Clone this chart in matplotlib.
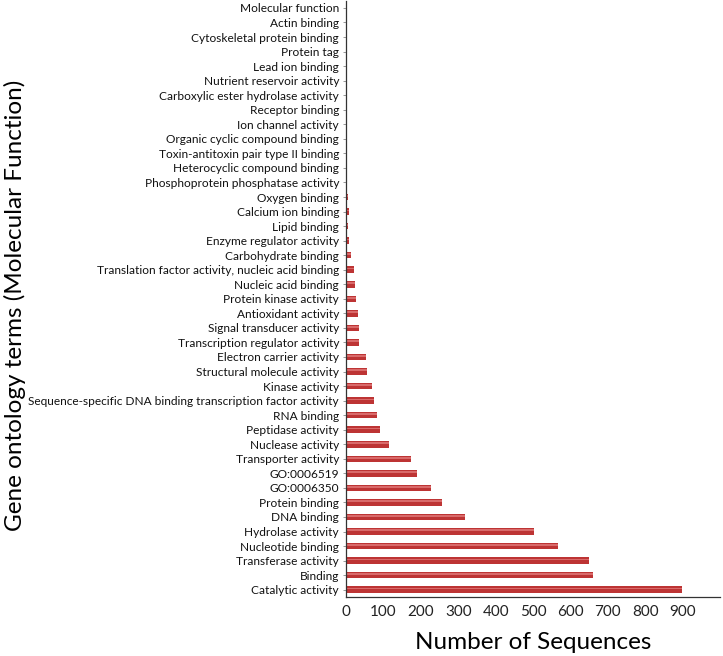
import matplotlib
matplotlib.use("Agg")
import matplotlib.pyplot as plt

# GO molecular function terms, top to bottom as in the chart
TERMS = [
    "Molecular function",
    "Actin binding",
    "Cytoskeletal protein binding",
    "Protein tag",
    "Lead ion binding",
    "Nutrient reservoir activity",
    "Carboxylic ester hydrolase activity",
    "Receptor binding",
    "Ion channel activity",
    "Organic cyclic compound binding",
    "Toxin-antitoxin pair type II binding",
    "Heterocyclic compound binding",
    "Phosphoprotein phosphatase activity",
    "Oxygen binding",
    "Calcium ion binding",
    "Lipid binding",
    "Enzyme regulator activity",
    "Carbohydrate binding",
    "Translation factor activity, nucleic acid binding",
    "Nucleic acid binding",
    "Protein kinase activity",
    "Antioxidant activity",
    "Signal transducer activity",
    "Transcription regulator activity",
    "Electron carrier activity",
    "Structural molecule activity",
    "Kinase activity",
    "Sequence-specific DNA binding transcription factor activity",
    "RNA binding",
    "Peptidase activity",
    "Nuclease activity",
    "Transporter activity",
    "GO:0006519",
    "GO:0006350",
    "Protein binding",
    "DNA binding",
    "Hydrolase activity",
    "Nucleotide binding",
    "Transferase activity",
    "Binding",
    "Catalytic activity",
]

SEQ_COUNTS = [
    0, 0, 0, 0, 0, 0, 1, 1, 1, 1, 1, 2, 3, 5, 7, 6, 7, 12, 20, 23, 27, 31,
    35, 36, 53, 55, 70, 76, 82, 92, 115, 173, 189, 226, 257, 319, 502, 566,
    649, 660, 897,
]

XTICKS = [0, 100, 200, 300, 400, 500, 600, 700, 800, 900]

plt.rcParams["font.family"] = ["Lato", "DejaVu Sans"]

fig = plt.figure(figsize=(7.23, 6.56), dpi=100)
ax = fig.add_axes([0.4786, 0.09, 0.5174, 0.909])

pos = list(range(len(TERMS)))
ax.barh(pos, SEQ_COUNTS, height=0.45, color="#bd3434", edgecolor="none")
# light highlight strip along each bar
ax.barh([p - 0.08 for p in pos], SEQ_COUNTS, height=0.12, color="#d96a6a",
        edgecolor="none")

ax.set_ylim(len(TERMS) - 0.5, -0.5)
ax.set_xlim(0, 1000)
ax.set_yticks(pos)
ax.set_yticklabels(TERMS, fontsize=8.6, color="#111111")
ax.set_xticks(XTICKS)
ax.set_xticklabels([str(t) for t in XTICKS], fontsize=11, color="#222222")

ax.tick_params(axis="y", length=2, width=0.6, color="#888888", pad=3)
ax.tick_params(axis="x", length=0, pad=6)

for side in ["top", "right"]:
    ax.spines[side].set_visible(False)
ax.spines["left"].set_color("#333333")
ax.spines["bottom"].set_color("#333333")
ax.spines["left"].set_linewidth(0.9)
ax.spines["bottom"].set_linewidth(0.9)

ax.set_xlabel("Number of Sequences", fontsize=17.5, labelpad=9)
fig.text(0.021, 0.535, "Gene ontology terms (Molecular Function)", rotation=90,
         fontsize=17.5, ha="center", va="center")

fig.savefig("out.png", dpi=100)
